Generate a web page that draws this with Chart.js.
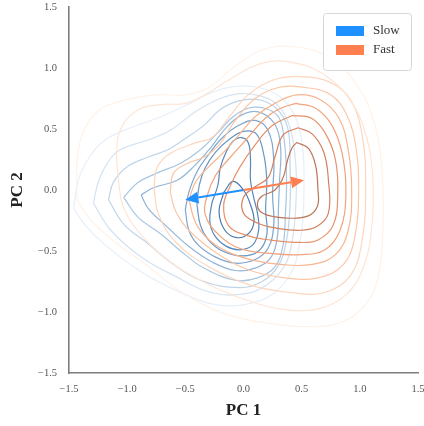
<!DOCTYPE html>
<html>
<head>
<meta charset="utf-8">
<script src="https://cdn.jsdelivr.net/npm/chart.js@4.4.1/dist/chart.umd.min.js"></script>
<style>
  html, body { margin: 0; padding: 0; background: #fff; }
  #pca { display: block; }
</style>
</head>
<body>
<canvas id="pca" width="424" height="426"></canvas>
<script>
// ejes y leyenda
const axisTicks = [-1.5, -1.0, -0.5, 0.0, 0.5, 1.0, 1.5];
const groupNames = ['Slow', 'Fast'];
const groupColors = ['#1e90ff', '#ff7f50'];

// flechas: origen -> media de cada grupo
const arrowOrigin = [0, 0];
const slowMean = [-0.50, -0.08];
const fastMean = [0.52, 0.08];

// contornos KDE "Slow" (de fuera hacia dentro)
const slow1 = [[-1.46,-0.15],[-1.42,0.08],[-1.33,0.26],[-1.19,0.41],[-0.97,0.51],[-0.71,0.60],[-0.46,0.71],[-0.27,0.80],[-0.07,0.85],[0.13,0.84],[0.32,0.76],[0.45,0.59],[0.51,0.33],[0.52,0.04],[0.51,-0.25],[0.48,-0.45],[0.42,-0.66],[0.27,-0.84],[0.06,-0.93],[-0.24,-0.94],[-0.54,-0.84],[-0.88,-0.67],[-1.19,-0.45],[-1.36,-0.29]];
const slow2 = [[-1.29,-0.11],[-1.25,0.06],[-1.17,0.22],[-1.06,0.33],[-0.82,0.41],[-0.63,0.49],[-0.40,0.65],[-0.20,0.75],[-0.03,0.79],[0.15,0.77],[0.30,0.69],[0.40,0.51],[0.45,0.20],[0.45,-0.12],[0.42,-0.41],[0.36,-0.61],[0.21,-0.77],[0.02,-0.85],[-0.28,-0.84],[-0.58,-0.71],[-0.88,-0.55],[-1.14,-0.33]];
const slow3 = [[-1.16,-0.08],[-1.12,0.06],[-1.00,0.19],[-0.82,0.27],[-0.65,0.33],[-0.52,0.41],[-0.34,0.53],[-0.20,0.66],[-0.04,0.73],[0.13,0.74],[0.28,0.67],[0.38,0.51],[0.40,0.20],[0.40,-0.12],[0.37,-0.41],[0.30,-0.62],[0.16,-0.75],[-0.03,-0.80],[-0.37,-0.74],[-0.63,-0.59],[-0.82,-0.44],[-1.03,-0.28]];
const slow4 = [[-1.03,-0.06],[-0.91,0.06],[-0.74,0.14],[-0.54,0.22],[-0.37,0.33],[-0.22,0.47],[-0.09,0.60],[0.04,0.67],[0.18,0.67],[0.30,0.60],[0.35,0.41],[0.37,0.08],[0.36,-0.20],[0.34,-0.45],[0.27,-0.63],[0.12,-0.72],[-0.07,-0.74],[-0.34,-0.64],[-0.54,-0.50],[-0.71,-0.36],[-0.91,-0.22]];
const slow5 = [[-0.88,-0.04],[-0.77,0.02],[-0.57,0.08],[-0.43,0.19],[-0.28,0.35],[-0.14,0.52],[0.02,0.63],[0.16,0.63],[0.28,0.52],[0.32,0.33],[0.31,0.08],[0.30,-0.16],[0.29,-0.39],[0.23,-0.56],[0.10,-0.64],[-0.07,-0.66],[-0.27,-0.59],[-0.46,-0.47],[-0.67,-0.29],[-0.82,-0.15]];
const slow6 = [[-0.50,-0.16],[-0.47,-0.02],[-0.40,0.15],[-0.30,0.29],[-0.18,0.43],[-0.04,0.53],[0.10,0.57],[0.21,0.49],[0.26,0.25],[0.25,-0.04],[0.26,-0.29],[0.21,-0.48],[0.10,-0.57],[-0.07,-0.60],[-0.24,-0.55],[-0.39,-0.45],[-0.47,-0.33]];
const slow7 = [[-0.40,-0.12],[-0.38,0.04],[-0.33,0.18],[-0.24,0.31],[-0.13,0.41],[0.00,0.48],[0.11,0.46],[0.17,0.31],[0.20,0.08],[0.19,-0.16],[0.20,-0.37],[0.13,-0.50],[-0.01,-0.54],[-0.18,-0.50],[-0.30,-0.41],[-0.37,-0.29]];
const slow8 = [[-0.27,-0.10],[-0.22,0.04],[-0.20,0.18],[-0.15,0.31],[-0.09,0.40],[-0.02,0.43],[0.04,0.39],[0.06,0.25],[0.06,0.08],[0.09,-0.07],[0.12,-0.19],[0.13,-0.33],[0.08,-0.45],[-0.03,-0.49],[-0.15,-0.46],[-0.25,-0.37],[-0.29,-0.25]];
const slow9 = [[-0.17,-0.02],[-0.09,0.07],[0.00,0.00],[0.06,-0.12],[0.09,-0.26],[0.04,-0.36],[-0.06,-0.39],[-0.16,-0.33],[-0.21,-0.18]];

// contornos KDE "Fast"
const fast1 = [[-1.43,-0.08],[-1.43,0.25],[-1.36,0.51],[-1.23,0.66],[-1.01,0.74],[-0.76,0.78],[-0.50,0.78],[-0.30,0.84],[-0.09,1.00],[0.16,1.15],[0.47,1.17],[0.76,1.07],[0.99,0.84],[1.13,0.53],[1.19,0.16],[1.20,-0.29],[1.16,-0.70],[1.05,-0.94],[0.85,-1.08],[0.58,-1.12],[0.27,-1.10],[-0.03,-1.05],[-0.28,-0.97],[-0.56,-0.82],[-0.84,-0.61],[-1.10,-0.43],[-1.31,-0.25]];
const fast2 = [[-1.07,0.04],[-1.09,0.33],[-1.04,0.53],[-0.90,0.66],[-0.71,0.70],[-0.50,0.71],[-0.33,0.78],[-0.13,0.90],[0.16,1.04],[0.45,1.04],[0.70,0.94],[0.90,0.76],[1.04,0.49],[1.11,0.12],[1.10,-0.33],[1.02,-0.66],[0.88,-0.86],[0.66,-0.97],[0.36,-0.98],[0.02,-0.90],[-0.33,-0.76],[-0.67,-0.56],[-0.93,-0.31],[-1.04,-0.12]];
const fast3 = [[-0.77,0.02],[-0.74,0.19],[-0.63,0.30],[-0.40,0.39],[-0.27,0.43],[-0.13,0.59],[0.04,0.78],[0.25,0.90],[0.49,0.93],[0.75,0.88],[0.92,0.74],[1.02,0.45],[1.05,0.04],[1.02,-0.41],[0.92,-0.70],[0.70,-0.84],[0.40,-0.84],[0.06,-0.78],[-0.28,-0.64],[-0.58,-0.43],[-0.73,-0.20]];
const fast4 = [[-0.63,-0.02],[-0.60,0.14],[-0.48,0.22],[-0.34,0.27],[-0.21,0.37],[-0.07,0.57],[0.10,0.75],[0.30,0.84],[0.53,0.84],[0.75,0.78],[0.89,0.61],[0.97,0.33],[0.99,0.00],[0.96,-0.37],[0.86,-0.61],[0.64,-0.72],[0.36,-0.72],[0.06,-0.66],[-0.21,-0.53],[-0.46,-0.34],[-0.58,-0.18]];
const fast5 = [[-0.47,-0.08],[-0.41,0.07],[-0.31,0.18],[-0.18,0.30],[-0.04,0.45],[0.10,0.60],[0.27,0.71],[0.46,0.78],[0.66,0.74],[0.82,0.59],[0.90,0.33],[0.93,0.00],[0.90,-0.33],[0.79,-0.53],[0.59,-0.61],[0.32,-0.61],[0.02,-0.56],[-0.24,-0.45],[-0.40,-0.29]];
const fast6 = [[0.45,0.71],[0.62,0.67],[0.76,0.53],[0.85,0.29],[0.88,-0.04],[0.83,-0.33],[0.70,-0.49],[0.49,-0.53],[0.23,-0.52],[-0.03,-0.48],[-0.21,-0.37],[-0.33,-0.20],[-0.31,-0.04],[-0.24,0.12],[-0.13,0.25],[0.02,0.41],[0.19,0.59],[0.32,0.67]];
const fast7 = [[0.42,0.61],[0.58,0.59],[0.70,0.47],[0.79,0.25],[0.81,-0.04],[0.77,-0.29],[0.64,-0.41],[0.49,-0.43],[0.23,-0.41],[0.02,-0.37],[-0.13,-0.29],[-0.17,-0.12],[-0.11,0.04],[-0.03,0.19],[0.10,0.37],[0.25,0.53]];
const fast8 = [[0.47,0.51],[0.59,0.46],[0.69,0.31],[0.73,0.08],[0.73,-0.19],[0.63,-0.30],[0.49,-0.33],[0.27,-0.31],[0.12,-0.27],[0.00,-0.19],[0.00,-0.06],[0.09,0.02],[0.21,0.10],[0.27,0.27],[0.34,0.45]];
const fast9 = [[0.46,0.39],[0.56,0.34],[0.62,0.20],[0.64,0.00],[0.64,-0.12],[0.58,-0.20],[0.46,-0.23],[0.27,-0.22],[0.15,-0.18],[0.12,-0.11],[0.16,-0.05],[0.27,0.00],[0.34,0.10],[0.38,0.25],[0.42,0.35]];

const slowContours = [slow1, slow2, slow3, slow4, slow5, slow6, slow7, slow8, slow9];
const fastContours = [fast1, fast2, fast3, fast4, fast5, fast6, fast7, fast8, fast9];

// colores por nivel (claro -> oscuro)
const slowShades = ['#e6eff9', '#d3e3f2', '#bed5ea', '#a8c6e1', '#92b6d8', '#7da6ce', '#6897c4', '#5888ba', '#4a7aae'];
const fastShades = ['#fff2e8', '#fee5d4', '#fdd6be', '#fbc7a7', '#f8b590', '#f2a37b', '#e69169', '#d4815e', '#bc7457'];

function contourDataset(points, color, order) {
  const closed = points.concat([points[0]]);
  return {
    data: closed.map(p => ({ x: p[0], y: p[1] })),
    showLine: true,
    borderColor: color,
    borderWidth: 1.2,
    pointRadius: 0,
    pointHoverRadius: 0,
    tension: 0.4,
    fill: false,
    order: order
  };
}

const datasets = [];
slowContours.forEach((c, i) => datasets.push(contourDataset(c, slowShades[i], 2)));
fastContours.forEach((c, i) => datasets.push(contourDataset(c, fastShades[i], 1)));

function tickLabel(v) {
  const s = Math.abs(v).toFixed(1);
  return v < 0 ? '\u2212' + s : s;
}

// flechas de las medias
const arrowPlugin = {
  id: 'meanArrows',
  afterDatasetsDraw(chart) {
    const { ctx, scales: { x, y } } = chart;
    const x0 = x.getPixelForValue(arrowOrigin[0]);
    const y0 = y.getPixelForValue(arrowOrigin[1]);
    [[slowMean, groupColors[0]], [fastMean, groupColors[1]]].forEach(([m, col]) => {
      const x1 = x.getPixelForValue(m[0]);
      const y1 = y.getPixelForValue(m[1]);
      const ang = Math.atan2(y1 - y0, x1 - x0);
      const headLen = 13, headW = 6;
      const bx = x1 - headLen * Math.cos(ang);
      const by = y1 - headLen * Math.sin(ang);
      ctx.save();
      ctx.strokeStyle = col;
      ctx.fillStyle = col;
      ctx.lineWidth = 2;
      ctx.beginPath();
      ctx.moveTo(x0, y0);
      ctx.lineTo(bx, by);
      ctx.stroke();
      ctx.beginPath();
      ctx.moveTo(x1, y1);
      ctx.lineTo(bx + headW * Math.sin(ang), by - headW * Math.cos(ang));
      ctx.lineTo(bx - headW * Math.sin(ang), by + headW * Math.cos(ang));
      ctx.closePath();
      ctx.fill();
      ctx.restore();
    });
  }
};

// leyenda dentro del area del grafico, arriba a la derecha
const legendPlugin = {
  id: 'boxLegend',
  afterDraw(chart) {
    const { ctx, chartArea } = chart;
    const w = 88, h = 57;
    const left = chartArea.right - 95, top = chartArea.top + 6;
    ctx.save();
    ctx.fillStyle = 'rgba(255,255,255,0.85)';
    ctx.strokeStyle = '#d6d6d6';
    ctx.lineWidth = 1;
    ctx.beginPath();
    ctx.roundRect(left + 0.5, top + 0.5, w, h, 3);
    ctx.fill();
    ctx.stroke();
    ctx.font = '13px "Liberation Serif", "DejaVu Serif", serif';
    ctx.textBaseline = 'middle';
    groupNames.forEach((name, i) => {
      const yy = top + 18 + i * 19;
      ctx.fillStyle = groupColors[i];
      ctx.fillRect(left + 13, yy - 5, 28, 10);
      ctx.fillStyle = '#333';
      ctx.fillText(name, left + 50, yy);
    });
    ctx.restore();
  }
};

Chart.defaults.font.family = '"Liberation Serif", "DejaVu Serif", serif';

new Chart(document.getElementById('pca'), {
  type: 'scatter',
  data: { datasets: datasets },
  plugins: [arrowPlugin, legendPlugin],
  options: {
    responsive: false,
    animation: false,
    events: [],
    layout: { padding: { left: 0, right: 6, top: 7, bottom: 0 } },
    plugins: { legend: { display: false }, tooltip: { enabled: false } },
    scales: {
      x: {
        type: 'linear',
        min: -1.5,
        max: 1.5,
        afterBuildTicks: s => { s.ticks = axisTicks.map(v => ({ value: v })); },
        afterFit: s => { s.height = 53; s.paddingLeft = 0; s.paddingRight = 0; },
        grid: { display: false, drawTicks: false },
        border: { display: true, color: '#7d7d7d', width: 1.6 },
        ticks: { padding: 10, color: '#555', font: { size: 10.5 }, maxRotation: 0, callback: v => tickLabel(v) },
        title: { display: true, text: 'PC 1', color: '#222', font: { size: 17, weight: 'bold' }, padding: { top: 0, bottom: 5 } }
      },
      y: {
        type: 'linear',
        min: -1.5,
        max: 1.5,
        afterBuildTicks: s => { s.ticks = axisTicks.map(v => ({ value: v })); },
        afterFit: s => { s.width = 69; s.paddingTop = 0; s.paddingBottom = 0; },
        grid: { display: false, drawTicks: false },
        border: { display: true, color: '#7d7d7d', width: 1.6 },
        ticks: { padding: 12, color: '#555', font: { size: 10.5 }, callback: v => tickLabel(v) },
        title: { display: true, text: 'PC 2', color: '#222', font: { size: 17, weight: 'bold' }, padding: { top: 7, bottom: 0 } }
      }
    }
  }
});
</script>
</body>
</html>
